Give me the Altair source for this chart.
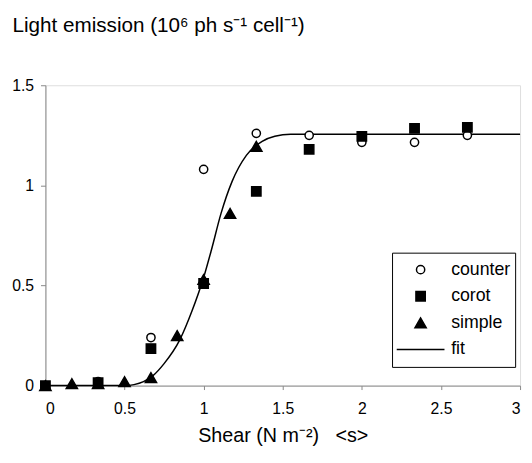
import altair as alt
import pandas as pd

# ---- data ----
series_names = ["counter", "corot", "simple"]
legend_items = ["counter", "corot", "simple", "fit"]

counter_x = [0.0, 0.333, 0.667, 1.0, 1.333, 1.667, 2.0, 2.333, 2.667]
counter_y = [0.0, 0.02, 0.24, 1.08, 1.26, 1.25, 1.215, 1.215, 1.25]

corot_x = [0.0, 0.333, 0.667, 1.0, 1.333, 1.667, 2.0, 2.333, 2.667]
corot_y = [0.0, 0.015, 0.185, 0.51, 0.97, 1.18, 1.245, 1.285, 1.29]

simple_x = [0.0, 0.167, 0.333, 0.5, 0.667, 0.833, 1.0, 1.167, 1.333]
simple_y = [0.0, 0.01, 0.01, 0.02, 0.04, 0.25, 0.53, 0.86, 1.195]

fit_x = [0.0, 0.5, 0.56, 0.62, 0.68, 0.75, 0.85, 0.925, 1.0, 1.05, 1.11, 1.18,
         1.27, 1.37, 1.45, 1.55, 1.7, 3.0]
fit_y = [0.0, 0.0, 0.005, 0.02, 0.05, 0.11, 0.23, 0.37, 0.54, 0.68, 0.86, 1.02,
         1.15, 1.22, 1.245, 1.255, 1.255, 1.255]

x_ticks = [0, 0.5, 1, 1.5, 2, 2.5, 3]
y_ticks = [0, 0.5, 1, 1.5]

y_title = "Light emission (10\u2076 ph s\u207b\u00b9 cell\u207b\u00b9)"
x_title = "Shear (N m\u207b\u00b2)\u00a0\u00a0 <s>"

# ---- tables ----
rows = []
for name, xs, ys in [("counter", counter_x, counter_y),
                     ("corot", corot_x, corot_y),
                     ("simple", simple_x, simple_y)]:
    for xv, yv in zip(xs, ys):
        rows.append({"series": name, "x": xv, "y": yv})
pts = pd.DataFrame(rows)
fit = pd.DataFrame({"x": fit_x, "y": fit_y})

FONT = "Liberation Sans"

xscale = alt.Scale(domain=[0, 3], nice=False, zero=False)
yscale = alt.Scale(domain=[0, 1.5], nice=False, zero=False)

xaxis = alt.Axis(values=x_ticks, format="~g", title=x_title, grid=False,
                 tickSize=4, labelPadding=11, titlePadding=10,
                 labelFontSize=16, titleFontSize=20, titleFontWeight="normal")
yaxis = alt.Axis(values=y_ticks, format="~g", title=y_title, grid=False,
                 tickSize=5, labelPadding=7, labelFontSize=16,
                 titleAngle=0, titleAlign="left", titleBaseline="alphabetic",
                 titleX=-34, titleY=-55, titleFontSize=21, titleFontWeight="normal")

legend = alt.Legend(title=None, orient="none", legendX=352, legendY=170,
                    strokeColor="black", fillColor="white", padding=4,
                    clipHeight=26.5, rowPadding=0, symbolOffset=0, labelOffset=6,
                    symbolStrokeWidth=1.5, symbolStrokeColor="black",
                    labelFontSize=18, labelFont=FONT, labelColor="black",
                    labelExpr="datum.label + '\u00a0\u00a0'")

line = alt.Chart(fit).mark_line(color="black", strokeWidth=1.5,
                                interpolate="monotone").encode(
    x=alt.X("x:Q", scale=xscale, axis=xaxis),
    y=alt.Y("y:Q", scale=yscale, axis=yaxis),
)

points = alt.Chart(pts).mark_point(filled=False, opacity=1, strokeWidth=1.5).encode(
    x=alt.X("x:Q", scale=xscale, axis=xaxis),
    y=alt.Y("y:Q", scale=yscale, axis=yaxis),
    shape=alt.Shape("series:N", scale=alt.Scale(domain=legend_items,
                    range=["circle", "square", "triangle-up", "stroke"]), legend=legend),
    fill=alt.Fill("series:N", scale=alt.Scale(domain=legend_items,
                  range=["white", "black", "black", "transparent"]), legend=legend),
    stroke=alt.Stroke("series:N", scale=alt.Scale(domain=legend_items,
                      range=["black", "black", "black", "black"]), legend=legend),
    size=alt.Size("series:N", scale=alt.Scale(type="ordinal", domain=legend_items,
                  range=[70, 90, 130, 2352]), legend=legend),
)

chart = alt.layer(line, points).properties(
    width=482, height=305,
    autosize=alt.AutoSizeParams(type="none"),
    padding={"left": 38, "top": 75, "right": 4, "bottom": 67},
).configure_view(stroke=None).configure_axis(
    labelFont=FONT, titleFont=FONT, labelColor="black", titleColor="black",
    domainColor="black", tickColor="black", domainWidth=1.2, tickWidth=1.2,
).configure(background="white")

chart.save("out.html", embed_options={"renderer": "svg", "actions": False})
